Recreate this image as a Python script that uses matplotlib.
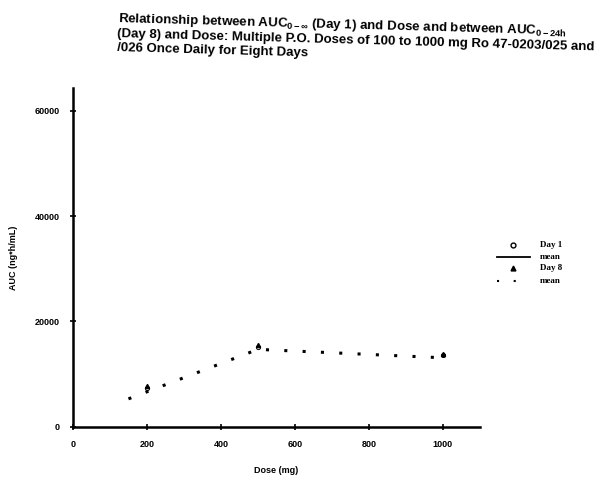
import matplotlib
matplotlib.use("Agg")
import matplotlib.pyplot as plt
from matplotlib.lines import Line2D

plt.rcParams["font.family"] = ["Liberation Sans", "DejaVu Sans"]
plt.rcParams["mathtext.fontset"] = "custom"
plt.rcParams["mathtext.rm"] = "Liberation Sans"
plt.rcParams["mathtext.bf"] = "Liberation Sans:bold"

dose_pts = [200, 500, 1000]
day1_auc = [7300, 15200, 13600]
day8_auc = [7800, 15600, 13900]

# day 8 mean line (dotted)
dose_line = [150, 500, 1000]
day8_mean = [5300, 14700, 13100]

xticks = [0, 200, 400, 600, 800, 1000]
yticks = [0, 20000, 40000, 60000]

fig = plt.figure(figsize=(6.13, 4.79), dpi=100)
ax = fig.add_axes([0.119, 0.109, 0.664, 0.707])

ax.plot(dose_line, day8_mean, color="black", linestyle=(0, (1, 5)), linewidth=2.2)
ax.plot(dose_pts, day1_auc, linestyle="none", marker="o", markersize=3,
        markerfacecolor="none", markeredgecolor="black", markeredgewidth=0.7)
ax.plot(dose_pts, day8_auc, linestyle="none", marker="^", markersize=3,
        color="black")

ax.set_xlim(0, 1100)
ax.set_ylim(0, 64300)
ax.set_xticks(xticks)
ax.set_yticks(yticks)
ax.set_xticklabels([str(t) for t in xticks], fontsize=6.5, fontweight="bold")
ax.set_yticklabels([str(t) for t in yticks], fontsize=6.5, fontweight="bold")
ax.tick_params(direction="inout", length=5, width=1.2, pad=7)
for s in ["top", "right"]:
    ax.spines[s].set_visible(False)
for s in ["left", "bottom"]:
    ax.spines[s].set_linewidth(1.8)

ax.set_xlabel("Dose (mg)", fontsize=6.5, fontweight="bold", labelpad=12)
ax.set_ylabel("AUC (ng*h/mL)", fontsize=6.5, fontweight="bold", labelpad=12)

title = ("Relationship between AUC$_{\\mathbf{0-\\infty}}$ (Day 1) and Dose and between AUC$_{\\mathbf{0-24h}}$\n"
         "(Day 8) and Dose: Multiple P.O. Doses of 100 to 1000 mg Ro 47-0203/025 and\n"
         "/026 Once Daily for Eight Days")
fig.text(0.193, 0.978, title, fontsize=9.5, fontweight="bold", va="top", ha="left",
         linespacing=1.2, rotation=-1.6, rotation_mode="anchor")

# legend drawn by hand: marker above line, label on two rows
fig.add_artist(Line2D([0.837], [0.489], marker="o", markersize=3.5, markerfacecolor="none",
                      markeredgecolor="black", linestyle="none", transform=fig.transFigure))
fig.add_artist(Line2D([0.811, 0.865], [0.463, 0.463], color="black", linewidth=1.3,
                      transform=fig.transFigure))
fig.add_artist(Line2D([0.837], [0.441], marker="^", markersize=3.5, color="black",
                      linestyle="none", transform=fig.transFigure))
fig.add_artist(Line2D([0.811, 0.865], [0.413, 0.413], color="black", linewidth=1.5,
                      linestyle=(0, (1, 7)), transform=fig.transFigure))
for y, t in [(0.489, "Day 1"), (0.463, "mean"), (0.441, "Day 8"), (0.413, "mean")]:
    fig.text(0.881, y, t, fontsize=6.5, fontweight="bold", va="center",
             ha="left", family="Liberation Serif")

fig.savefig("out.png", dpi=100)
